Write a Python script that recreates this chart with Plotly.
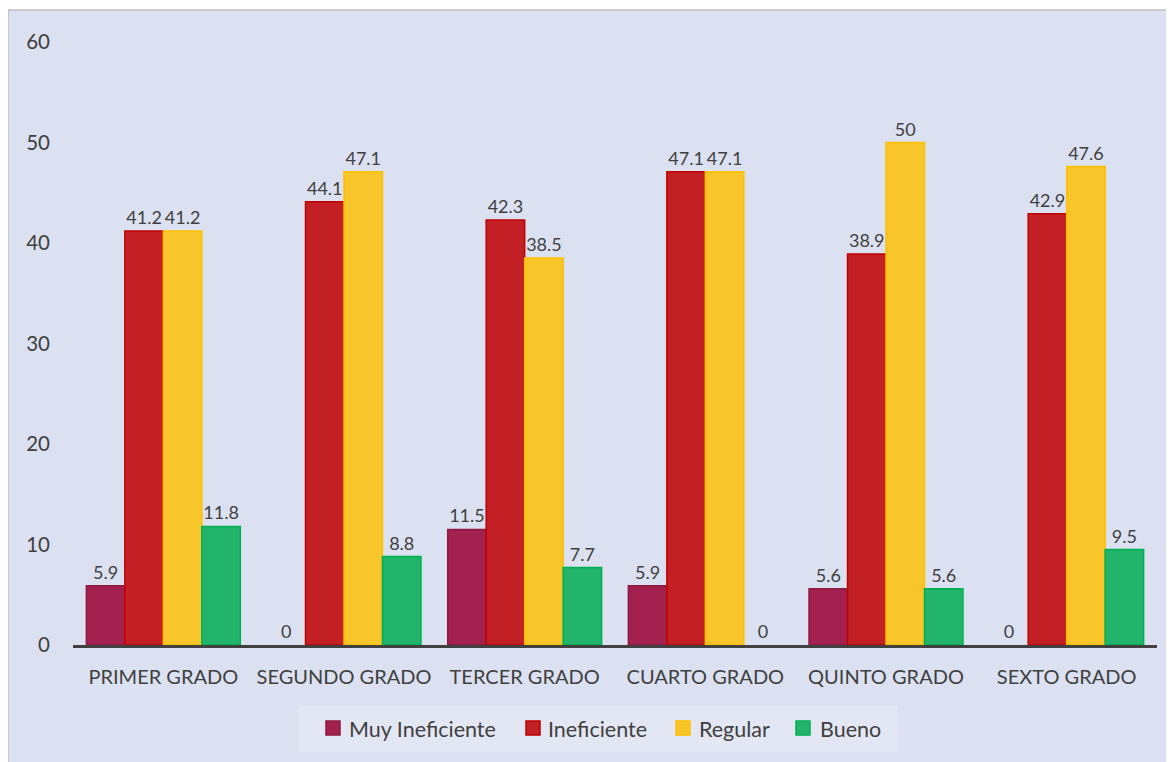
import plotly.graph_objects as go

categories = ["PRIMER GRADO", "SEGUNDO GRADO", "TERCER GRADO", "CUARTO GRADO", "QUINTO GRADO", "SEXTO GRADO"]
series_names = ["Muy Ineficiente", "Ineficiente", "Regular", "Bueno"]
muy_ineficiente = [5.9, 0, 11.5, 5.9, 5.6, 0]
ineficiente = [41.2, 44.1, 42.3, 47.1, 38.9, 42.9]
regular = [41.2, 47.1, 38.5, 47.1, 50, 47.6]
bueno = [11.8, 8.8, 7.7, 0, 5.6, 9.5]
y_ticks = [0, 10, 20, 30, 40, 50, 60]

fills = ["#A2214F", "#C32026", "#F8C52A", "#23B46B"]
edges = ["#8E1A40", "#C00000", "#FFC000", "#00B050"]
values = [muy_ineficiente, ineficiente, regular, bueno]

FONT = "Lato"
TXT = "#404040"

fig = go.Figure()
for name, vals, fc, ec in zip(series_names, values, fills, edges):
    fig.add_trace(go.Bar(
        x=categories, y=vals, name=name, showlegend=False,
        marker=dict(color=fc, line=dict(color=ec, width=[1.5 if v > 0 else 0 for v in vals])),
        text=[f"{v:g}" for v in vals], textposition="outside",
        textfont=dict(family=FONT, size=18, color=TXT),
        cliponaxis=False,
    ))

OFF = 8  # page body margin
W, H = 1174, 762
L, R, T, B = 73 - OFF, 17 + OFF, 42 - OFF, 117 + OFF
pw, ph = W - L - R, H - T - B

def px_x(p):
    return (p - OFF - L) / pw

def px_y(p):
    return (H - B - (p - OFF)) / ph

shapes = [dict(type="rect", xref="paper", yref="paper",
               x0=px_x(8), x1=px_x(1190), y0=px_y(10), y1=px_y(780),
               fillcolor="#DCE1F2", line=dict(color="#BFBFBF", width=1.5), layer="below"),
          dict(type="rect", xref="paper", yref="paper",
               x0=px_x(298), x1=px_x(898), y0=px_y(706), y1=px_y(752),
               fillcolor="#E3E6F3", line=dict(width=0), layer="below")]

# legend drawn as shapes + text
sq_x = [326, 526, 676, 796]
txt_x = [347, 546, 697, 818]
annotations = []
for name, fc, ec, sx, tx in zip(series_names, fills, edges, sq_x, txt_x):
    shapes.append(dict(type="rect", xref="paper", yref="paper",
                       x0=px_x(sx), x1=px_x(sx + 14), y0=px_y(721), y1=px_y(735),
                       fillcolor=fc, line=dict(color=ec, width=1.5)))
    annotations.append(dict(xref="paper", yref="paper", x=px_x(tx), y=px_y(729),
                            xanchor="left", yanchor="middle", showarrow=False, text=name,
                            font=dict(family=FONT, size=21.5, color=TXT)))

fig.update_layout(
    width=W, height=H,
    margin=dict(l=L, r=R, t=T, b=B),
    paper_bgcolor="white",
    plot_bgcolor="rgba(0,0,0,0)",
    barmode="group",
    bargap=0.148,
    bargroupgap=0,
    font=dict(family=FONT, color=TXT),
    showlegend=False,
    shapes=shapes,
    annotations=annotations,
    xaxis=dict(showline=True, linecolor="#404040", linewidth=3, showgrid=False,
               tickfont=dict(family=FONT, size=20, color=TXT), ticks="", ticklabelstandoff=12),
    yaxis=dict(range=[0, 60], tickvals=y_ticks, showgrid=False, zeroline=False, showline=False,
               tickfont=dict(family=FONT, size=20.5, color=TXT), ticklabelstandoff=22),
)

fig.write_html("out.html")
